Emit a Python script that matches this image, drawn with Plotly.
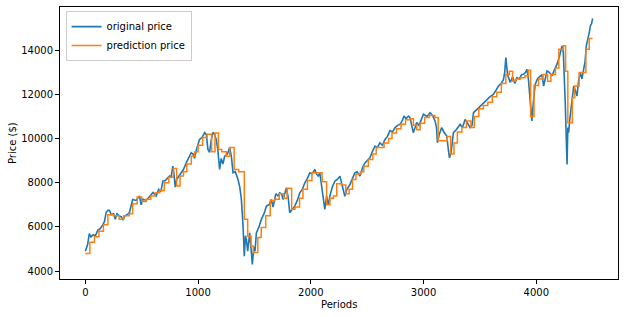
import plotly.graph_objects as go

# original price: (period, value)
orig_periods = [0, 20, 35, 50, 70, 90, 110, 124, 150, 170, 184, 200, 213, 230, 250, 265, 280, 300, 320, 332,
    350, 370, 391, 410, 420, 450, 480, 495, 510, 540, 570, 600, 628, 650, 670, 687, 710, 730, 746, 760,
    776, 786, 797, 810, 830, 850, 870, 895, 915, 939, 955, 969, 985, 1000, 1013, 1035, 1058, 1073, 1087, 1102,
    1115, 1132, 1145, 1161, 1175, 1191, 1205, 1220, 1236, 1260, 1280, 1295, 1310, 1330, 1354, 1370, 1384, 1399, 1410, 1420,
    1428, 1440, 1458, 1470, 1481, 1495, 1505, 1517, 1540, 1561, 1585, 1606, 1630, 1650, 1665, 1690, 1710, 1724, 1740, 1754,
    1770, 1784, 1800, 1813, 1835, 1858, 1880, 1902, 1925, 1947, 1970, 1991, 2010, 2036, 2050, 2065, 2080, 2095, 2110, 2124,
    2140, 2155, 2169, 2190, 2213, 2235, 2258, 2280, 2302, 2320, 2347, 2370, 2391, 2410, 2436, 2460, 2480, 2500, 2524, 2545,
    2569, 2590, 2613, 2635, 2658, 2680, 2702, 2725, 2747, 2770, 2791, 2810, 2827, 2845, 2865, 2880, 2895, 2909, 2925, 2939,
    2960, 2980, 2999, 3030, 3058, 3080, 3102, 3115, 3123, 3140, 3161, 3180, 3206, 3220, 3230, 3245, 3265, 3290, 3324, 3345,
    3369, 3390, 3413, 3430, 3443, 3470, 3502, 3530, 3561, 3590, 3620, 3640, 3665, 3690, 3709, 3720, 3730, 3745, 3769, 3790,
    3810, 3828, 3850, 3870, 3887, 3905, 3917, 3930, 3940, 3950, 3961, 3975, 3991, 4010, 4036, 4050, 4065, 4080, 4095, 4115,
    4139, 4160, 4184, 4205, 4228, 4240, 4249, 4258, 4266, 4273, 4280, 4287, 4300, 4311, 4322, 4332, 4345, 4361, 4375, 4391,
    4405, 4421, 4433, 4444, 4460, 4470, 4480, 4490, 4500]
orig_values = [4900, 5200, 5700, 5550, 5650, 5600, 5850, 5880, 6050, 6250, 6650, 6750, 6750, 6550, 6600, 6350, 6600, 6500, 6450, 6300,
    6500, 6550, 6650, 7000, 7240, 7200, 7400, 7000, 7250, 7200, 7400, 7560, 7400, 7700, 7600, 8070, 8100, 8200, 8300, 8250,
    8750, 8400, 7800, 8150, 8300, 8450, 8600, 8900, 9100, 9360, 9300, 9100, 9500, 9700, 9960, 10050, 10270, 10190, 9510, 9370,
    9900, 10280, 10200, 9960, 9500, 8600, 9100, 8850, 9200, 9300, 9590, 9200, 8450, 8500, 8150, 7800, 7240, 6030, 4670, 5600,
    5430, 4900, 5730, 5000, 4300, 5100, 4900, 5730, 6000, 6340, 6600, 6940, 7000, 7240, 6900, 7500, 7400, 7540, 7500, 7240,
    7600, 7770, 7300, 6640, 6800, 6940, 7200, 7540, 7700, 8000, 8200, 8450, 8400, 8600, 8400, 8300, 8450, 7850, 7200, 6790,
    7400, 7000, 7390, 7800, 8070, 8150, 8300, 7900, 7390, 7700, 7920, 8200, 8450, 8500, 8300, 8700, 8900, 9000, 9130, 9400,
    9660, 9600, 9810, 9700, 9960, 10100, 10360, 10300, 10500, 10600, 10640, 10800, 11020, 10900, 11020, 10950, 10600, 10270, 10500, 10730,
    10600, 10900, 11100, 11000, 11170, 11050, 10800, 10500, 9810, 10200, 10500, 10300, 10120, 9500, 9130, 9400, 10270, 10400, 10640, 10500,
    10870, 10700, 10500, 10600, 11170, 11300, 11470, 11600, 11780, 11900, 12000, 12150, 12380, 12500, 12680, 13000, 13670, 12900, 12540, 12800,
    12500, 12760, 12700, 12900, 12910, 13000, 13140, 12700, 12080, 11500, 10800, 11700, 12460, 12700, 12840, 12900, 12380, 12800, 13060, 13000,
    12840, 13100, 13370, 13700, 14200, 13900, 12990, 11470, 10000, 8830, 10500, 10270, 11000, 11470, 11800, 12380, 12200, 11930, 12600, 12990,
    12700, 13290, 13500, 14200, 14500, 14800, 15100, 15200, 15440]

# prediction price: step levels (period where the level starts, value)
pred_periods = [0, 40, 80, 120, 160, 200, 250, 300, 340, 390, 420, 460, 500, 540, 580, 620, 660, 700, 740, 780,
    810, 840, 870, 900, 940, 970, 1000, 1040, 1080, 1120, 1150, 1180, 1210, 1250, 1280, 1320, 1360, 1410, 1440, 1470,
    1490, 1530, 1560, 1600, 1640, 1680, 1720, 1760, 1790, 1830, 1860, 1900, 1930, 1970, 2010, 2050, 2100, 2140, 2170, 2200,
    2230, 2270, 2310, 2340, 2370, 2400, 2440, 2470, 2510, 2550, 2580, 2620, 2650, 2690, 2720, 2760, 2800, 2840, 2880, 2910,
    2940, 2970, 3010, 3050, 3100, 3130, 3170, 3210, 3240, 3270, 3300, 3340, 3380, 3420, 3450, 3490, 3530, 3570, 3610, 3650,
    3690, 3730, 3760, 3790, 3820, 3860, 3900, 3930, 3950, 3980, 4020, 4060, 4100, 4130, 4170, 4200, 4240, 4260, 4280, 4320,
    4340, 4380, 4420, 4440, 4470, 4500]
pred_values = [4800, 5300, 5550, 5800, 6100, 6550, 6500, 6350, 6500, 6600, 7050, 7350, 7150, 7250, 7400, 7550, 7650, 8000, 8250, 8650,
    7850, 8300, 8500, 8850, 9200, 9400, 9700, 10050, 10200, 9400, 10250, 9500, 9400, 9200, 9600, 8600, 8500, 6350, 5580, 5130,
    4840, 5520, 5970, 6500, 7200, 7250, 7500, 7300, 7750, 6800, 6900, 7300, 7700, 8100, 8450, 8450, 8050, 7000, 7300, 7400,
    7950, 7900, 7500, 7700, 8150, 8400, 8500, 8750, 9050, 9300, 9600, 9600, 9800, 10000, 10250, 10450, 10650, 10850, 10900, 10600,
    10400, 10700, 10950, 11050, 10950, 9900, 9900, 10100, 9300, 9800, 10300, 10500, 10800, 10500, 11000, 11350, 11500, 11650, 11900, 12100,
    12500, 12900, 13050, 12600, 12700, 12750, 12850, 13100, 11000, 12400, 12700, 12900, 12600, 12900, 13200, 14050, 14200, 13050, 10720, 11850,
    12380, 12990, 12990, 14050, 14530, 14530]

x_ticks = [0, 1000, 2000, 3000, 4000]
y_ticks = [4000, 6000, 8000, 10000, 12000, 14000]

fig = go.Figure()
fig.add_trace(go.Scatter(x=orig_periods, y=orig_values, mode="lines", name="original price",
                         line=dict(color="#1f77b4", width=1.6)))
fig.add_trace(go.Scatter(x=pred_periods, y=pred_values, mode="lines", name="prediction price",
                         line=dict(color="#ff7f0e", width=1.5, shape="hv")))

axis_common = dict(showline=True, linecolor="black", linewidth=1, mirror=True, ticks="outside",
                   ticklen=4, tickcolor="black", showgrid=False, zeroline=False, automargin=False,
                   tickfont=dict(family="DejaVu Sans", size=10, color="black"))
fig.update_xaxes(range=[-225, 4725], tickvals=x_ticks, ticktext=[str(v) for v in x_ticks], **axis_common)
fig.update_yaxes(range=[3640, 15960], tickvals=y_ticks, ticktext=[str(v) for v in y_ticks], **axis_common)

title_font = dict(family="DejaVu Sans", size=10, color="black")
fig.add_annotation(text="Periods", xref="paper", yref="paper", x=0.5, y=0, yshift=-25,
                   xanchor="center", yanchor="middle", showarrow=False, font=title_font)
fig.add_annotation(text="Price ($)", xref="paper", yref="paper", x=0, y=0.5, xshift=-48,
                   xanchor="center", yanchor="middle", textangle=-90, showarrow=False, font=title_font)

fig.update_layout(width=624, height=317, margin=dict(l=60, r=6, t=7, b=38),
                  plot_bgcolor="white", paper_bgcolor="white",
                  legend=dict(x=0.01, y=0.985, xanchor="left", yanchor="top", bgcolor="rgba(255,255,255,0.8)",
                              bordercolor="#cccccc", borderwidth=1,
                              font=dict(family="DejaVu Sans", size=10, color="black"),
                              tracegroupgap=0, itemwidth=30))
fig.write_html("out.html", config={"displayModeBar": False},
               post_script="document.body.style.margin='0';document.body.style.overflow='hidden';")
